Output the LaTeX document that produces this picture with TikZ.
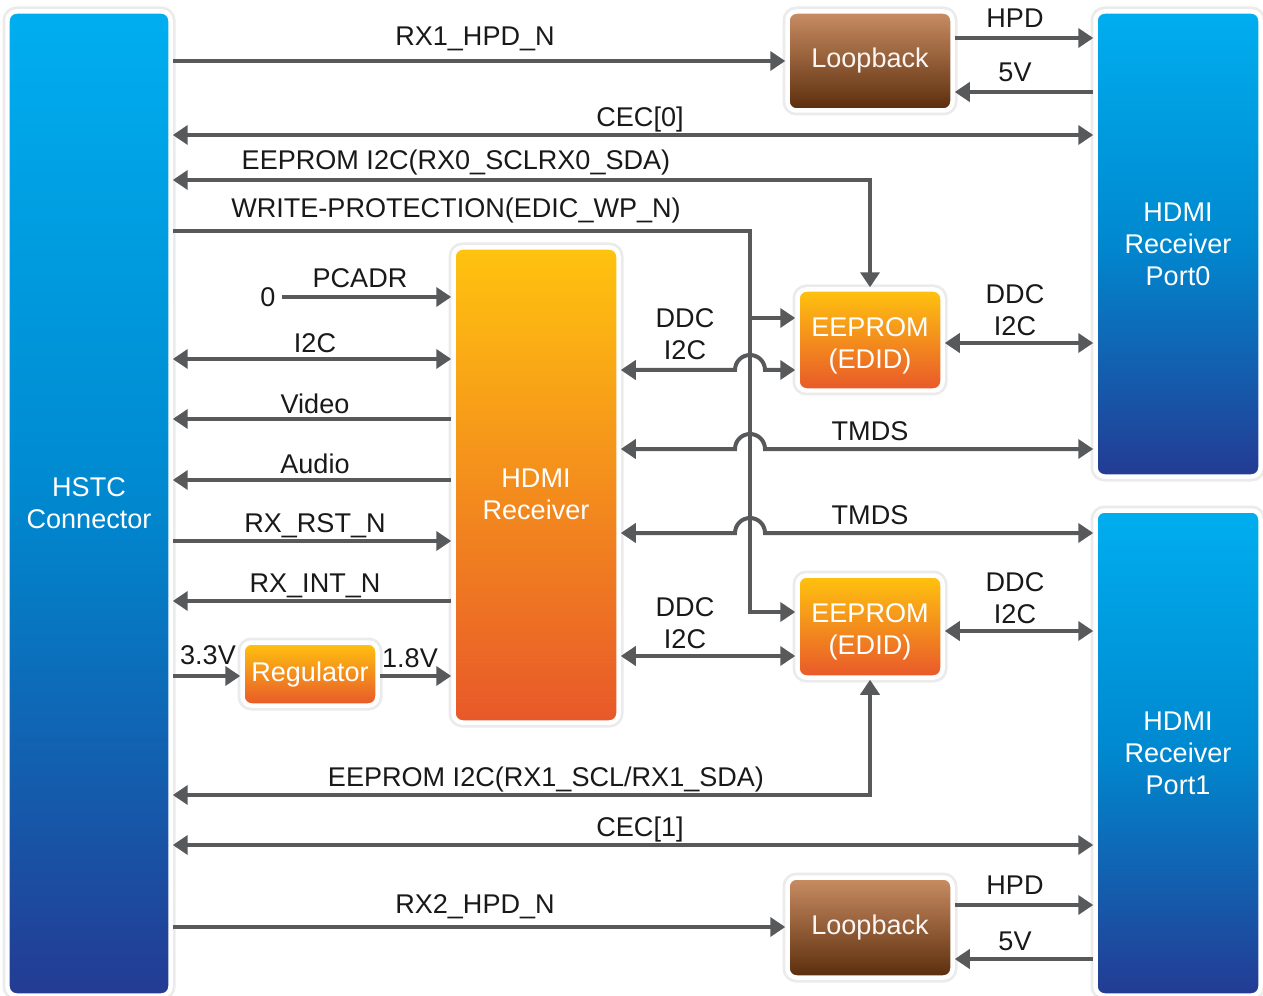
\documentclass[tikz,border=0pt]{standalone}
\usepackage{fontspec}
\setmainfont{Liberation Sans}
\usetikzlibrary{arrows.meta,positioning}
\definecolor{linegray}{HTML}{58595B}
\definecolor{blueA}{HTML}{00AEEF}
\definecolor{blueB}{HTML}{0088CF}
\definecolor{blueC}{HTML}{243B93}
\definecolor{orangeA}{HTML}{FFC30F}
\definecolor{orangeB}{HTML}{E8582A}
\definecolor{brownA}{HTML}{C98D63}
\definecolor{brownB}{HTML}{5B2D0C}
\newcommand{\pxu}{0.02cm}

\begin{document}
\begin{tikzpicture}[x=0.02cm,y=-0.02cm,
	font=\fontsize{15.4}{18.2}\selectfont,
	>={Triangle[length=0.3cm,width=0.38cm]},
	box/.style={draw=white, line width=0.09cm, rounded corners=0.18cm, align=center,
		preaction={draw=black!8, line width=0.2cm}},
	bluebox/.style={box, top color=blueA, bottom color=blueC, middle color=blueB, text=white},
	orangebox/.style={box, top color=orangeA, bottom color=orangeB, text=white},
	brownbox/.style={box, top color=brownA, bottom color=brownB, text=white!92!brownA},
	sig/.style={draw=linegray, line width=0.08cm},
	lbl/.style={anchor=base, text=black!90},
	lbl2/.style={align=center, text=black!90}]
	\useasboundingbox (0,0) rectangle (1263,996);
	% blocks
	\node[bluebox, minimum width=163*\pxu, minimum height=984*\pxu] (hstc) at (89,503.5) {HSTC\\Connector};
	\node[bluebox, minimum width=165*\pxu, minimum height=465*\pxu] (p0) at (1178,244) {HDMI\\Receiver\\Port0};
	\node[bluebox, minimum width=165*\pxu, minimum height=485*\pxu] (p1) at (1178,753) {HDMI\\Receiver\\Port1};
	\node[brownbox, minimum width=165*\pxu, minimum height=99*\pxu] (lb0) at (870,61) {Loopback};
	\node[brownbox, minimum width=165*\pxu, minimum height=100*\pxu] (lb1) at (870,927.5) {Loopback};
	\node[orangebox, minimum width=165*\pxu, minimum height=475*\pxu, text height=70*\pxu] (rx) at (536,485) {HDMI\\Receiver};
	\node[orangebox, minimum width=145*\pxu, minimum height=101*\pxu, text height=62*\pxu] (ee0) at (870,340) {EEPROM\\(EDID)};
	\node[orangebox, minimum width=145*\pxu, minimum height=102*\pxu, text height=62*\pxu] (ee1) at (870,626.5) {EEPROM\\(EDID)};
	\node[orangebox, minimum width=135*\pxu, minimum height=63*\pxu] (reg) at (310,674) {Regulator};

	% labels
	\node[lbl] (trx1) at (475,46) {RX1\_HPD\_N};
	\node[lbl] (thpd0) at (1015,28) {HPD};
	\node[lbl] (t5v0) at (1015,82) {5V};
	\node[lbl] (tcec0) at (640,127) {CEC[0]};
	\node[lbl] (tee0) at (456,170) {EEPROM I2C(RX0\_SCLRX0\_SDA)};
	\node[lbl] (twp) at (456,218) {WRITE-PROTECTION(EDIC\_WP\_N)};
	\node[lbl] (tpc) at (360,288) {PCADR};
	\node[lbl] (tzero) at (268,307) {0};
	\node[lbl] (ti2c) at (315,353) {I2C};
	\node[lbl] (tvid) at (315,414) {Video};
	\node[lbl] (taud) at (315,473) {Audio};
	\node[lbl] (trst) at (315,532) {RX\_RST\_N};
	\node[lbl] (tint) at (315,592) {RX\_INT\_N};
	\node[lbl] (t33) at (208,664) {3.3V};
	\node[lbl] (t18) at (410,667) {1.8V};
	\node[lbl2] (tddc0) at (685,334) {DDC\\I2C};
	\node[lbl2] (tddc1) at (1015,310) {DDC\\I2C};
	\node[lbl] (ttm0) at (870,440) {TMDS};
	\node[lbl] (ttm1) at (870,524) {TMDS};
	\node[lbl2] (tddc2) at (685,623) {DDC\\I2C};
	\node[lbl2] (tddc3) at (1015,598) {DDC\\I2C};
	\node[lbl] (tee1) at (546,786) {EEPROM I2C(RX1\_SCL/RX1\_SDA)};
	\node[lbl] (tcec1) at (640,836) {CEC[1]};
	\node[lbl] (trx2) at (475,913) {RX2\_HPD\_N};
	\node[lbl] (thpd1) at (1015,894) {HPD};
	\node[lbl] (t5v1) at (1015,950) {5V};

	% top port
	\draw[sig,->] (hstc.east |- 0,61) -- (lb0.west |- 0,61);
	\draw[sig,->] (lb0.east |- 0,38) -- (p0.west |- 0,38);
	\draw[sig,<-] (lb0.east |- 0,92) -- (p0.west |- 0,92);
	\draw[sig,<->] (hstc.east |- 0,135) -- (p0.west |- 0,135);
	\draw[sig,<->] (hstc.east |- 0,180) -- (ee0.north |- 0,180) -- (ee0.north);
	\coordinate (wp) at (750,231);
	\draw[sig,->] (hstc.east |- wp) -- (wp) -- (wp |- 0,612) -- (ee1.west |- 0,612);
	\draw[sig,->] (wp |- 0,318) -- (ee0.west |- 0,318);
	\draw[sig,<->] (rx.east |- 0,370) -- (735,370) arc[start angle=180, end angle=360, radius=15]
		-- (ee0.west |- 0,370);
	\draw[sig,<->] (ee0.east |- 0,343) -- (p0.west |- 0,343);
	\draw[sig,<->] (rx.east |- 0,449) -- (735,449) arc[start angle=180, end angle=360, radius=15]
		-- (p0.west |- 0,449);

	% receiver side
	\draw[sig,->] (tzero.east |- 0,297) -- (rx.west |- 0,297);
	\draw[sig,<->] (hstc.east |- 0,359) -- (rx.west |- 0,359);
	\draw[sig,<-] (hstc.east |- 0,419) -- (rx.west |- 0,419);
	\draw[sig,<-] (hstc.east |- 0,480) -- (rx.west |- 0,480);
	\draw[sig,->] (hstc.east |- 0,541) -- (rx.west |- 0,541);
	\draw[sig,<-] (hstc.east |- 0,601) -- (rx.west |- 0,601);
	\draw[sig,->] (hstc.east |- 0,676) -- (reg.west |- 0,676);
	\draw[sig,->] (reg.east |- 0,676) -- (rx.west |- 0,676);

	% bottom port
	\draw[sig,<->] (rx.east |- 0,533) -- (735,533) arc[start angle=180, end angle=360, radius=15]
		-- (p1.west |- 0,533);
	\draw[sig,<->] (rx.east |- 0,656) -- (ee1.west |- 0,656);
	\draw[sig,<->] (ee1.east |- 0,631) -- (p1.west |- 0,631);
	\draw[sig,<->] (hstc.east |- 0,795) -- (ee1.south |- 0,795) -- (ee1.south);
	\draw[sig,<->] (hstc.east |- 0,845) -- (p1.west |- 0,845);
	\draw[sig,->] (hstc.east |- 0,927) -- (lb1.west |- 0,927);
	\draw[sig,->] (lb1.east |- 0,905) -- (p1.west |- 0,905);
	\draw[sig,<-] (lb1.east |- 0,959) -- (p1.west |- 0,959);
\end{tikzpicture}
\end{document}
